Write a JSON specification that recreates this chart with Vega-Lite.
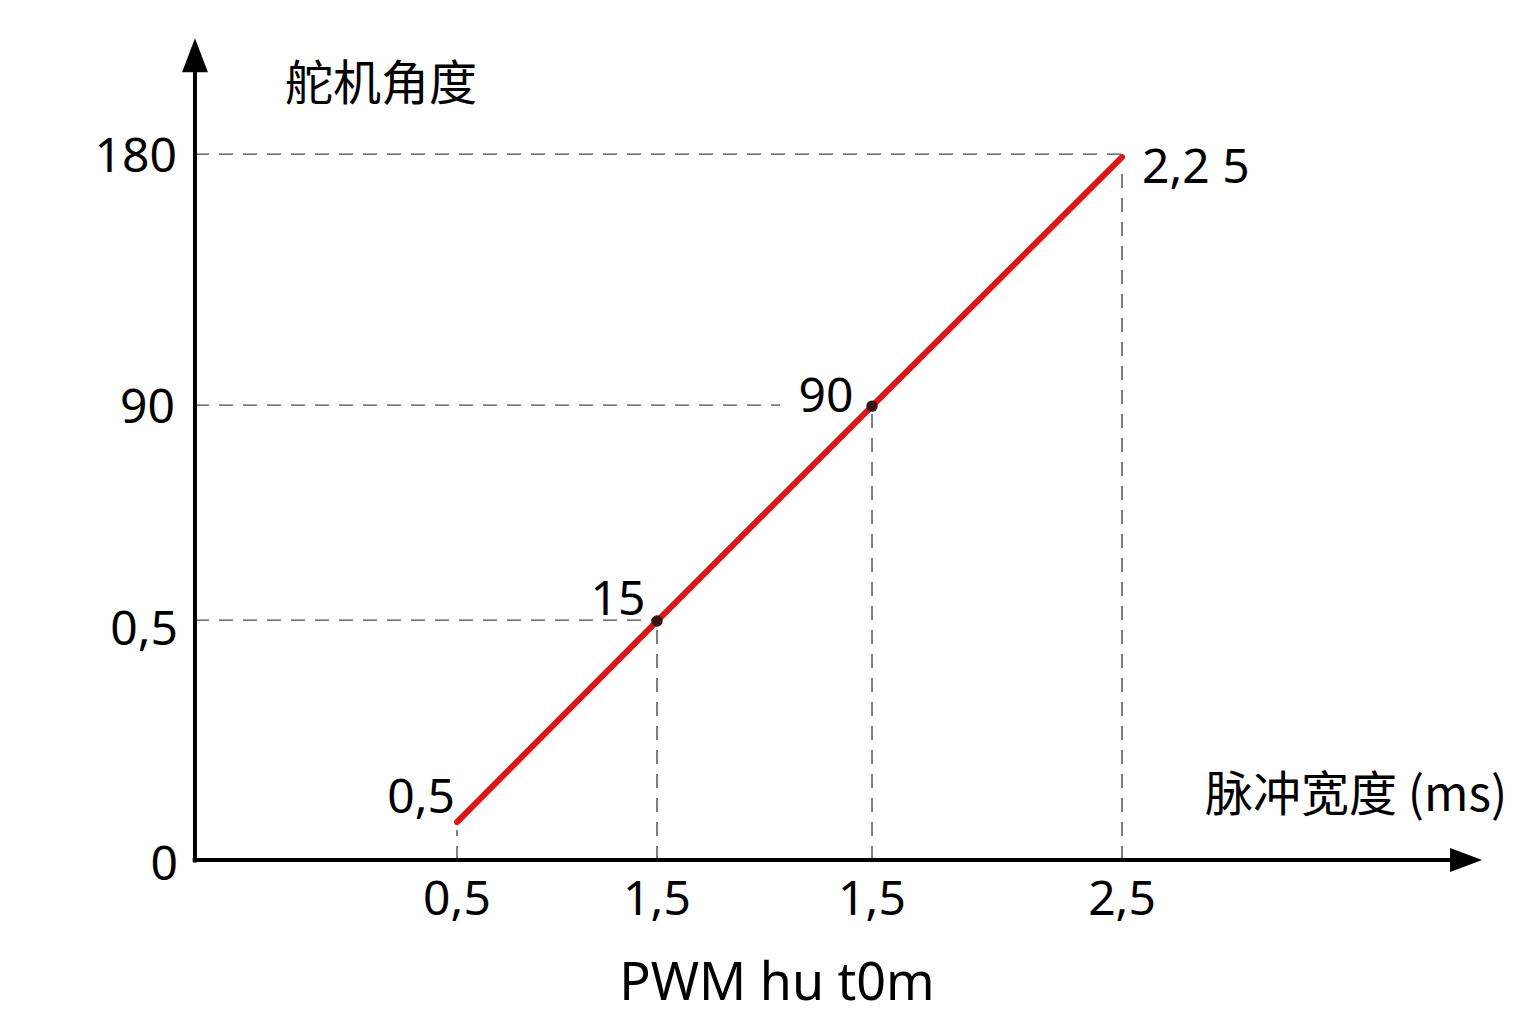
{
  "$schema": "https://vega.github.io/schema/vega-lite/v6.json",
  "width": 1536,
  "height": 1024,
  "autosize": {"type": "fit", "contains": "padding"},
  "padding": 0,
  "background": "white",
  "config": {"view": {"stroke": null}},
  "datasets": {
    "curve": [
      {"pw": 0.5, "angle": 9.69},
      {"pw": 1.1015, "angle": 60.94},
      {"pw": 1.7481, "angle": 115.75},
      {"pw": 2.5, "angle": 179.24}
    ],
    "marked": [
      {"pw": 1.1015, "angle": 60.94},
      {"pw": 1.7481, "angle": 115.75}
    ],
    "hguides": [
      {"angle": 180, "pw": -0.288, "pw2": 2.5},
      {"angle": 116.0, "pw": -0.288, "pw2": 1.4714},
      {"angle": 61.19, "pw": -0.288, "pw2": 1.1015}
    ],
    "vguides": [
      {"pw": 0.5, "angle": 0, "angle2": 7.65},
      {"pw": 1.1015, "angle": 0, "angle2": 59.92},
      {"pw": 1.7481, "angle": 0, "angle2": 114.73},
      {"pw": 2.5, "angle": 0, "angle2": 177.2}
    ],
    "xaxis": [{"pw": -0.295, "pw2": 3.503, "angle": 0}],
    "yaxis": [{"pw": -0.288, "angle": -0.6, "angle2": 203.97}],
    "uparrow": [{"pw": -0.288, "angle": 205.24}],
    "rightarrow": [{"pw": 3.5346, "angle": 0}],
    "rightLabels": [
      {"pw": -0.3421, "angle": 175.41, "label": "180"},
      {"pw": -0.3481, "angle": 111.42, "label": "90"},
      {"pw": -0.3391, "angle": 54.82, "label": "0,5"},
      {"pw": -0.3391, "angle": -5.1, "label": "0"},
      {"pw": 0.494, "angle": 11.98, "label": "0,5"}
    ],
    "centerLabels": [
      {"pw": 0.5, "angle": -14.02, "label": "0,5"},
      {"pw": 1.1015, "angle": -14.02, "label": "1,5"},
      {"pw": 1.7481, "angle": -14.02, "label": "1,5"},
      {"pw": 2.5, "angle": -14.02, "label": "2,5"},
      {"pw": 0.9842, "angle": 62.47, "label": "15"},
      {"pw": 1.6098, "angle": 114.22, "label": "90"}
    ],
    "leftLabels": [
      {"pw": 2.5602, "angle": 172.61, "label": "2,2 5"}
    ],
    "xTitle": [{"pw": 1.4624, "angle": -35.69, "label": "PWM hu t0m"}],
    "cjk": [
      {"pw": -0.0173, "angle": 197.34, "label": "舵机角度"},
      {"pw": 2.7496, "angle": 16.06, "label": "脉冲宽度 (ms)"}
    ]
  },
  "encoding": {
    "x": {"field": "pw", "type": "quantitative", "scale": {"domain": [-0.8744, 3.745], "nice": false, "zero": false}, "axis": null},
    "y": {"field": "angle", "type": "quantitative", "scale": {"domain": [-41.8, 219.3], "nice": false, "zero": false}, "axis": null}
  },
  "layer": [
    {
      "data": {"name": "hguides"},
      "mark": {"type": "rule", "color": "#4a4a4a", "strokeWidth": 1.4, "strokeDash": [14, 10]},
      "encoding": {"x2": {"field": "pw2"}}
    },
    {
      "data": {"name": "vguides"},
      "mark": {"type": "rule", "color": "#4a4a4a", "strokeWidth": 1.4, "strokeDash": [14, 10]},
      "encoding": {"y2": {"field": "angle2"}}
    },
    {
      "data": {"name": "xaxis"},
      "mark": {"type": "rule", "color": "#000000", "strokeWidth": 4},
      "encoding": {"x2": {"field": "pw2"}}
    },
    {
      "data": {"name": "yaxis"},
      "mark": {"type": "rule", "color": "#000000", "strokeWidth": 4},
      "encoding": {"y2": {"field": "angle2"}}
    },
    {
      "data": {"name": "uparrow"},
      "mark": {"type": "point", "shape": "M0,-1L0.76,1L-0.76,1Z", "filled": true, "color": "#000000", "size": 1156, "opacity": 1}
    },
    {
      "data": {"name": "rightarrow"},
      "mark": {"type": "point", "shape": "M1,0L-1,0.75L-1,-0.75Z", "filled": true, "color": "#000000", "size": 1024, "opacity": 1}
    },
    {
      "data": {"name": "curve"},
      "mark": {"type": "line", "color": "#dd1515", "strokeWidth": 6, "strokeCap": "round"}
    },
    {
      "data": {"name": "marked"},
      "mark": {"type": "point", "filled": true, "color": "#3a1414", "size": 130, "opacity": 1}
    },
    {
      "data": {"name": "rightLabels"},
      "mark": {"type": "text", "align": "right", "baseline": "alphabetic", "font": "Noto Sans", "fontSize": 48, "color": "#000000"},
      "encoding": {"text": {"field": "label"}}
    },
    {
      "data": {"name": "centerLabels"},
      "mark": {"type": "text", "align": "center", "baseline": "alphabetic", "font": "Noto Sans", "fontSize": 48, "color": "#000000"},
      "encoding": {"text": {"field": "label"}}
    },
    {
      "data": {"name": "leftLabels"},
      "mark": {"type": "text", "align": "left", "baseline": "alphabetic", "font": "Noto Sans", "fontSize": 48, "color": "#000000"},
      "encoding": {"text": {"field": "label"}}
    },
    {
      "data": {"name": "xTitle"},
      "mark": {"type": "text", "align": "center", "baseline": "alphabetic", "font": "Noto Sans", "fontSize": 52, "color": "#000000"},
      "encoding": {"text": {"field": "label"}}
    },
    {
      "data": {"name": "cjk"},
      "mark": {"type": "text", "align": "left", "baseline": "middle", "font": "Noto Sans CJK SC", "fontSize": 48, "color": "#000000"},
      "encoding": {"text": {"field": "label"}}
    }
  ]
}
